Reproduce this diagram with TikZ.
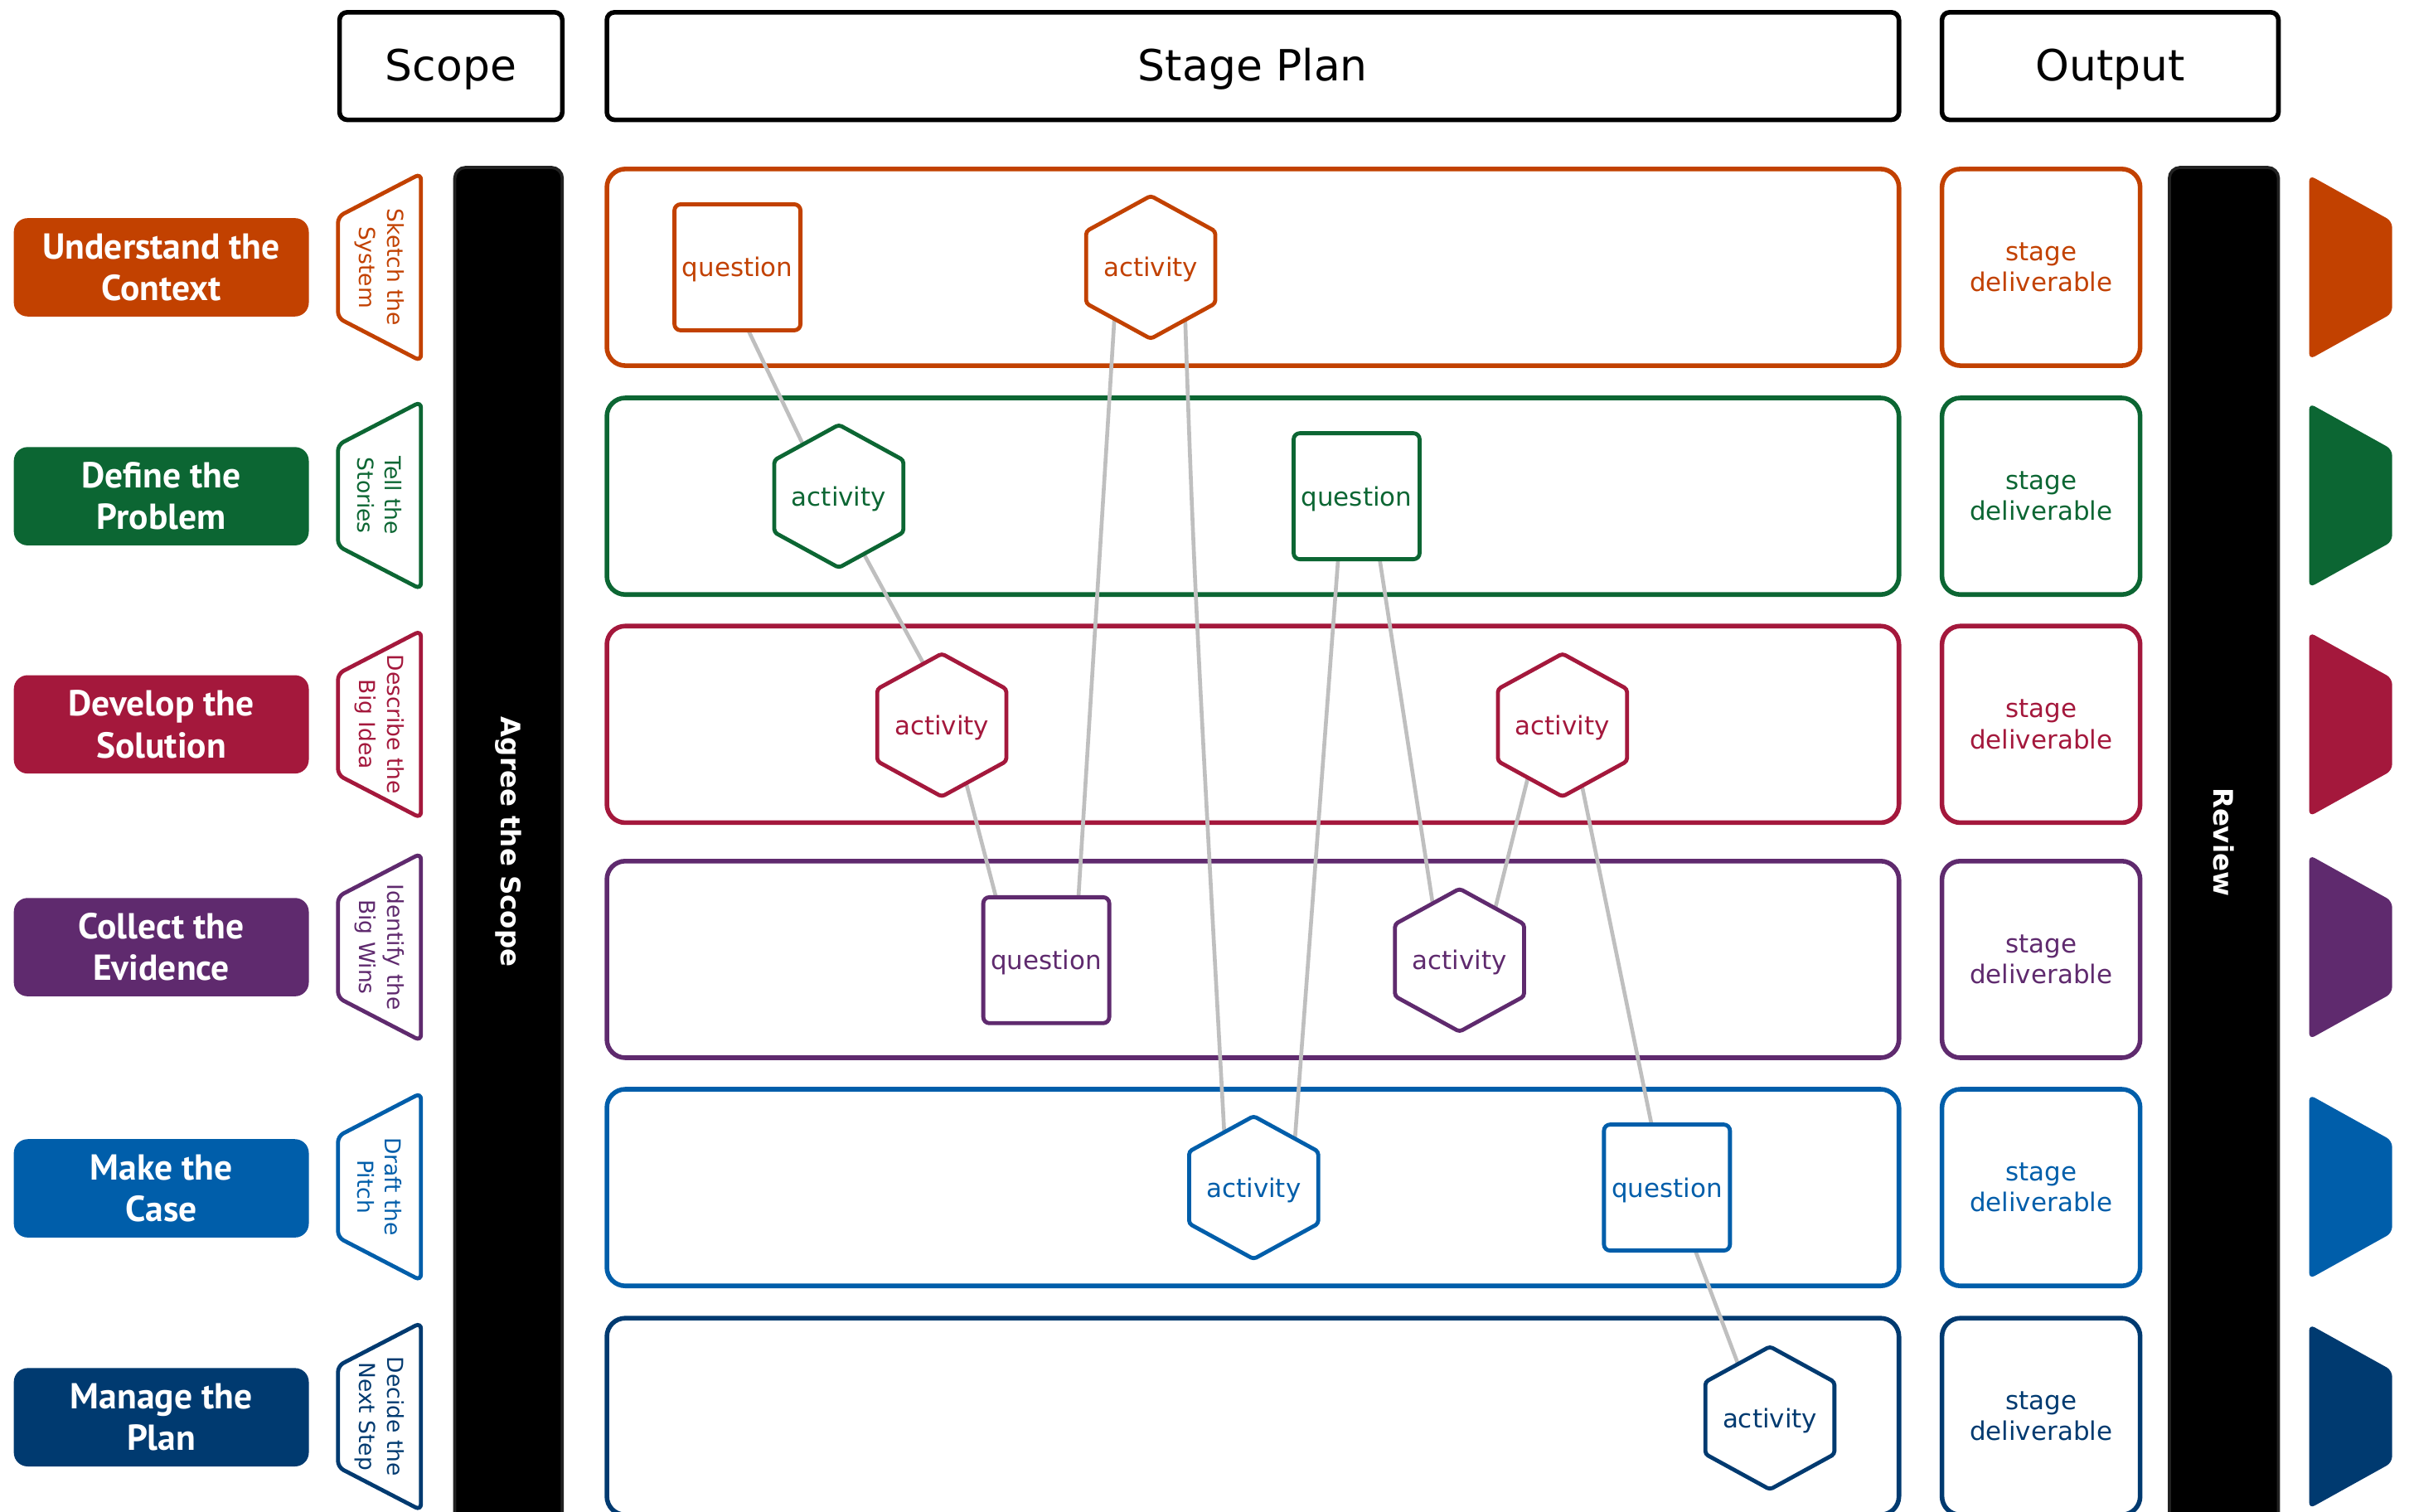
\documentclass[tikz,border=0pt]{standalone}
\usepackage{fontspec}
\setmainfont{DejaVu Sans}
\newfontfamily\stagefont{PT Sans}
\usetikzlibrary{calc}
\definecolor{corange}{RGB}{194,65,0}
\definecolor{cgreen}{RGB}{12,102,51}
\definecolor{ccrimson}{RGB}{164,24,60}
\definecolor{cpurple}{RGB}{95,42,110}
\definecolor{cblue}{RGB}{0,94,170}
\definecolor{cnavy}{RGB}{0,58,112}
\definecolor{cgray}{RGB}{191,191,191}
\definecolor{cbar}{RGB}{34,34,34}
\pgfdeclarelayer{bg}
\pgfdeclarelayer{conn}
\pgfsetlayers{bg,conn,main}
\newcommand\hexnode[4]{%
  \path[hexborder=#4] (#2,#3) +(0,-46.5) -- +(42,-23.5) -- +(42,23.5) -- +(0,46.5) -- +(-42,23.5) -- +(-42,-23.5) -- cycle;
  \node[hextext=#4] (#1) at (#2,#3) {activity};}
\begin{document}
\begin{tikzpicture}[x=1pt,y=-1pt,
  header/.style={draw=black,line width=3pt,rounded corners=5pt,inner sep=0pt,minimum height=70pt,text height=26pt,text depth=6.6pt,font=\fontsize{28}{34}\selectfont},
  stagelabel/.style={fill=#1,rounded corners=9pt,minimum width=192pt,minimum height=64pt,inner sep=0pt,text=white,align=center,font=\stagefont\bfseries\fontsize{23.5}{27}\selectfont},
  trap/.style={draw=#1,line width=2.6pt,rounded corners=4pt},
  traptext/.style={text=#1,rotate=-90,align=center,inner sep=0pt,font=\fontsize{14.3}{18}\selectfont},
  rowbox/.style={draw=#1,line width=3pt,rounded corners=12pt,minimum width=841pt,minimum height=128pt,inner sep=0pt},
  outbox/.style={draw=#1,line width=3pt,rounded corners=12pt,minimum width=129pt,minimum height=128pt,inner sep=0pt,align=center,text=#1,font=\fontsize{16.7}{20}\selectfont},
  question/.style={draw=#1,fill=white,line width=2.6pt,rounded corners=4pt,minimum width=82pt,minimum height=82pt,inner sep=0pt,text height=16.4pt,text depth=4pt,text=#1,font=\fontsize{16.7}{20}\selectfont},
  hexborder/.style={draw=#1,fill=white,line width=2.6pt,rounded corners=2pt},
  hextext/.style={text=#1,inner sep=0pt,text height=16.4pt,text depth=4pt,font=\fontsize{16.7}{20}\selectfont},
  bar/.style={fill=black,draw=cbar,line width=2pt,rounded corners=7pt},
  bartext/.style={text=white,rotate=-90,inner sep=0pt,font=\bfseries\fontsize{17.5}{21}\selectfont},
  arrowshape/.style={fill=#1,rounded corners=4pt},
  conn/.style={draw=cgray,line width=2.5pt},
]
\useasboundingbox (0,0) rectangle (1568,984);
\begin{pgfonlayer}{bg}
\fill[white] (0,0) rectangle (1568,984);
\end{pgfonlayer}

% headers
\node[header,minimum width=145pt] (hscope) at (293.5,43) {Scope};
\node[header,minimum width=841pt] (hplan) at (815.5,43) {Stage Plan};
\node[header,minimum width=219pt] (hout) at (1373.5,43) {Output};

% vertical bars
\draw[bar] (296,109) rectangle (366,994);
\node[bartext] (scopebar) at (331,548) {Agree the Scope};
\draw[bar] (1412,109) rectangle (1483,994);
\node[bartext] (reviewbar) at (1447.5,548) {Review};

% stage rows
\foreach \i/\col/\ly/\ty/\rc/\lab/\tt in {
  1/corange/174/174/174/{Understand the\\Context}/{Sketch the\\System},
  2/cgreen/323/322.5/323/{Define the\\Problem}/{Tell the\\Stories},
  3/ccrimson/471.5/471.5/471.5/{Develop the\\Solution}/{Describe the\\Big Idea},
  4/cpurple/616.5/616.5/624.5/{Collect the\\Evidence}/{Identify the\\Big Wins},
  5/cblue/773.5/772.5/773/{Make the\\Case}/{Draft the\\Pitch},
  6/cnavy/922.5/922/922/{Manage the\\Plan}/{Decide the\\Next Step}}{
  \node[stagelabel=\col] (label\i) at (105,\ly) {\lab};
  \draw[trap=\col] (274,\ty-61) -- (274,\ty+61) -- (220,\ty+33) -- (220,\ty-33) -- cycle;
  \node[traptext=\col] (trap\i) at (247,\ty) {\tt};
  \begin{pgfonlayer}{bg}
    \node[rowbox=\col] (row\i) at (815.5,\rc) {};
  \end{pgfonlayer}
  \node[outbox=\col] (out\i) at (1328.5,\rc) {stage\\deliverable};
  \fill[arrowshape=\col] (1503,\ty-60) -- (1557,\ty-30) -- (1557,\ty+30) -- (1503,\ty+60) -- cycle;
}

% plan nodes
\node[question=corange] (q1) at (480,174) {question};
\hexnode{a1}{749}{174}{corange}
\hexnode{a2}{546}{323}{cgreen}
\node[question=cgreen] (q2) at (883,323) {question};
\hexnode{a3}{613}{472}{ccrimson}
\hexnode{a3b}{1017}{472}{ccrimson}
\node[question=cpurple] (q4) at (681,625) {question};
\hexnode{a4}{950}{625}{cpurple}
\hexnode{a5}{816}{773}{cblue}
\node[question=cblue] (q5) at (1085,773) {question};
\hexnode{a6}{1152}{923}{cnavy}

% connectors
\begin{pgfonlayer}{conn}
\draw[conn] ([xshift=-12.6pt]q1.center) -- ([xshift=-7.2pt]a2.center);
\draw[conn] ([xshift=-4.2pt]a2.center) -- ([xshift=9.9pt]a3.center);
\draw[conn] ([xshift=6pt]a3.center) -- ([xshift=-22pt]q4.center);
\draw[conn] ([xshift=18.4pt]q4.center) -- ([xshift=-21.6pt]a1.center);
\draw[conn] ([xshift=21.3pt]a1.center) .. controls ([xshift=28pt,yshift=-200pt]a1.center) .. ([xshift=-17.2pt]a5.center);
\draw[conn] ([xshift=-9pt]q2.center) -- ([xshift=24.5pt]a5.center);
\draw[conn] ([xshift=8.7pt]q2.center) -- ([xshift=-11.8pt]a4.center);
\draw[conn] ([xshift=14.8pt]a4.center) -- ([xshift=-14pt]a3b.center);
\draw[conn] ([xshift=4.6pt]a3b.center) -- ([xshift=-1.6pt]q5.center);
\draw[conn] ([xshift=3pt]q5.center) -- ([xshift=-7.5pt]a6.center);
\end{pgfonlayer}
\end{tikzpicture}
\end{document}
